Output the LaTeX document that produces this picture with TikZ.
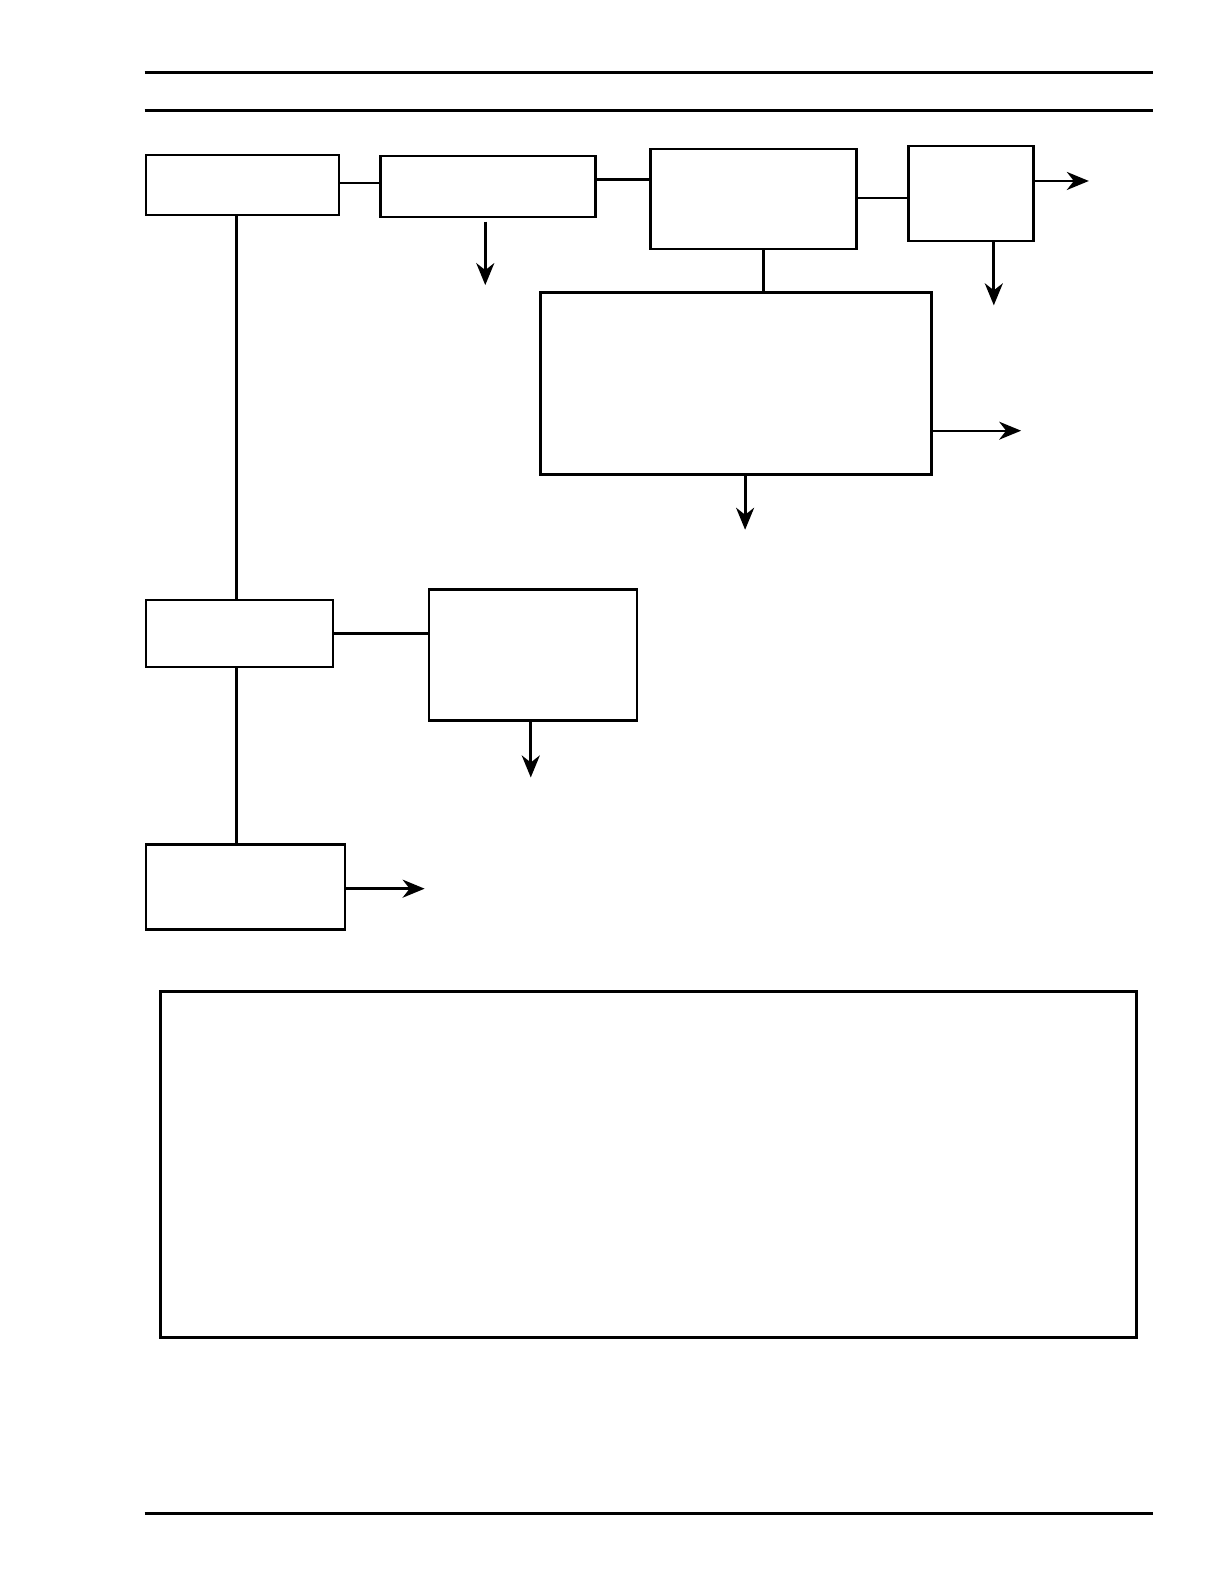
\documentclass[tikz,border=0pt]{standalone}
\usepackage{tikz}
\usetikzlibrary{arrows.meta, positioning}

\begin{document}
\begin{tikzpicture}[x=1pt, y=-1pt,
    blk/.style={draw, line width=2.8pt, inner sep=0pt, anchor=north west},
    link/.style={line width=2.8pt},
    outarrow/.style={line width=2.8pt, -{Stealth[length=22pt, width=18pt, inset=7pt]}},
    thinarrow/.style={line width=1.8pt, -{Stealth[length=22pt, width=18pt, inset=7pt]}}]
    \useasboundingbox (0,0) rectangle (1225,1585);

    \begin{scope}[x=1.011pt, y=-1.011pt]
    % Header and footer rules
    \draw[link] (143,72) -- (1140,72);
    \draw[link] (143,109) -- (1140,109);
    \draw[link] (143,1497) -- (1140,1497);

    % Top row of blocks
    \node[blk, minimum width=193pt, minimum height=60pt] (src) at (143,152) {};
    \node[blk, minimum width=215pt, minimum height=61pt] (stageB) at (375,153) {};
    \node[blk, minimum width=206pt, minimum height=100pt] (stageC) at (642,146) {};
    \node[blk, minimum width=125pt, minimum height=95pt] (stageD) at (897,143) {};
    \node[blk, minimum width=391pt, minimum height=182pt] (stageE) at (533,288) {};

    % Left column of blocks
    \node[blk, minimum width=187pt, minimum height=67pt] (stageF) at (143,592) {};
    \node[blk, minimum width=208pt, minimum height=131pt] (stageG) at (423,582) {};
    \node[blk, minimum width=199pt, minimum height=85pt] (stageH) at (143,834) {};

    % Large box at the bottom
    \node[blk, minimum width=976pt, minimum height=346pt] (panel) at (157,979) {};

    % Links between blocks
    \draw[link] ([yshift=2pt]src.east) -- ([yshift=2pt]src.east -| stageB.west);
    \draw[link] ([yshift=7pt]stageB.east) -- ([yshift=7pt]stageB.east -| stageC.west);
    \draw[link] ([yshift=1pt]stageC.east) -- ([yshift=1pt]stageC.east -| stageD.west);
    \draw[link] (stageC.south -| 755,0) -- (stageE.north -| 755,0);
    \draw[link] (src.south -| 234,0) -- (stageF.north -| 234,0);
    \draw[link] (stageF.east) -- (stageF.east -| stageG.west);
    \draw[link] (stageF.south -| 234,0) -- (stageH.north -| 234,0);

    % Outgoing arrows
    \coordinate (outB) at (480,282);
    \coordinate (outDr) at (1077,179);
    \coordinate (outDd) at (983,302);
    \coordinate (outEr) at (1010,426);
    \coordinate (outEd) at (737,524);
    \coordinate (outG) at (525,769);
    \coordinate (outH) at (420,879);
    \draw[outarrow] (stageB.south -| outB) ++(0,3) -- (outB);
    \draw[outarrow] (stageD.east |- outDr) -- (outDr);
    \draw[outarrow] (stageD.south -| outDd) -- (outDd);
    \draw[thinarrow] (stageE.east |- outEr) -- (outEr);
    \draw[outarrow] (stageE.south -| outEd) -- (outEd);
    \draw[outarrow] (stageG.south -| outG) -- (outG);
    \draw[outarrow] (stageH.east |- outH) -- (outH);
    \end{scope}
\end{tikzpicture}
\end{document}
